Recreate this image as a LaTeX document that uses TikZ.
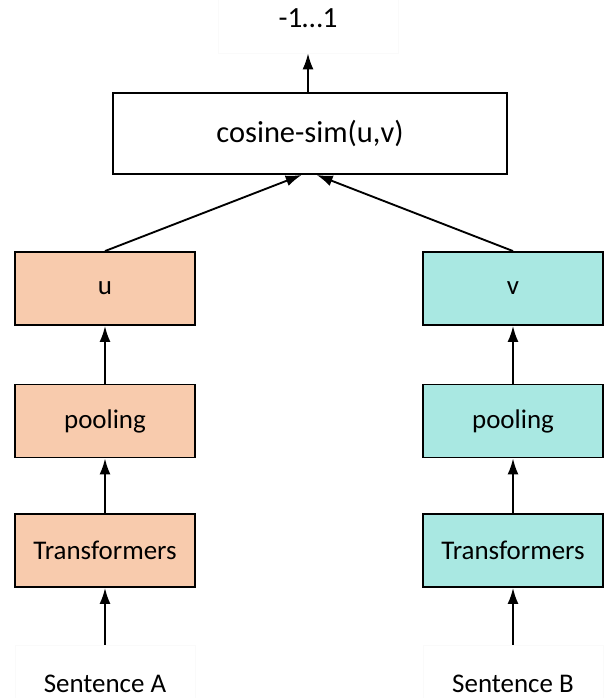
\documentclass[tikz,border=0pt]{standalone}
\usepackage{fontspec}
\setmainfont{Carlito}
\usetikzlibrary{arrows.meta}
\definecolor{boxorange}{HTML}{F8CBAD}
\definecolor{boxteal}{HTML}{A9E8E2}
\tikzset{
    layer/.style={draw, line width=1.6pt, minimum width=5.4cm, minimum height=2.19cm,
        font=\fontsize{23}{27}\selectfont},
    plain/.style={draw=black!2, line width=0.6pt, minimum width=5.4cm, minimum height=2.34cm,
        font=\fontsize{23}{27}\selectfont},
    flow/.style={line width=1.6pt, -{Latex[length=0.48cm,width=0.33cm]}}
}
\begin{document}
\begin{tikzpicture}[x=0.03cm, y=-0.03cm]
    \useasboundingbox (0, 0) rectangle (610, 698);
    % similarity head
    \node[layer, minimum width=11.82cm, minimum height=2.43cm, font=\fontsize{26}{30}\selectfont]
        (cos) at (310, 133.5) {cosine-sim(u,v)};
    \node[plain, minimum height=2.1cm, font=\fontsize{25}{29}\selectfont] (out) at (308, 18) {-1\ldots1};
    % sentence A
    \node[layer, fill=boxorange] (u) at (105, 288.5) {u};
    \node[layer, fill=boxorange] (poolA) at (105, 421) {pooling};
    \node[layer, fill=boxorange] (transA) at (105, 550.5) {Transformers};
    \node[plain] (sentA) at (105, 684) {Sentence A};
    % sentence B
    \node[layer, fill=boxteal] (v) at (513, 288.5) {v};
    \node[layer, fill=boxteal] (poolB) at (513, 421) {pooling};
    \node[layer, fill=boxteal] (transB) at (513, 550.5) {Transformers};
    \node[plain] (sentB) at (513, 684) {Sentence B};
    % connectors
    \draw[flow] (sentA.north) -- (transA.south);
    \draw[flow] (transA.north) -- (poolA.south);
    \draw[flow] (poolA.north) -- (u.south);
    \draw[flow] (sentB.north) -- (transB.south);
    \draw[flow] (transB.north) -- (poolB.south);
    \draw[flow] (poolB.north) -- (v.south);
    \draw[flow] (u.north) -- ([xshift=-0.25cm]cos.south);
    \draw[flow] (v.north) -- ([xshift=0.2cm]cos.south);
    \draw[flow] ([xshift=-0.06cm]cos.north) -- (out.south);
\end{tikzpicture}
\end{document}
